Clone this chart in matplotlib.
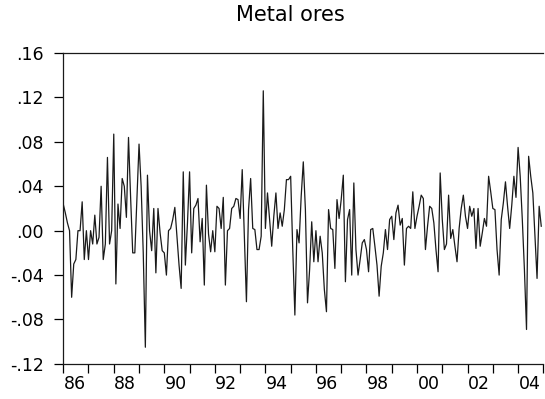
import numpy as np
import matplotlib
matplotlib.use("Agg")
import matplotlib.pyplot as plt
from matplotlib.ticker import FixedLocator, FuncFormatter, NullFormatter

# Monthly growth rates, Metal ores, 1986:01 - 2004:12
start_year = 1986
values = [
    # 1986
    0.024, 0.016, 0.007, 0.000, -0.060, -0.030, -0.026, 0.000, 0.000, 0.026, -0.026, 0.000,
    # 1987
    -0.026, 0.000, -0.012, 0.014, -0.012, -0.006, 0.040, -0.026, -0.012, 0.066, -0.012, 0.000,
    # 1988
    0.087, -0.048, 0.024, 0.002, 0.047, 0.040, 0.012, 0.084, 0.030, -0.020, -0.020, 0.030,
    # 1989
    0.078, 0.040, -0.020, -0.105, 0.050, 0.000, -0.018, 0.020, -0.038, 0.020, -0.002, -0.018,
    # 1990
    -0.020, -0.040, 0.000, 0.002, 0.010, 0.021, -0.005, -0.031, -0.052, 0.053, -0.031, 0.007,
    # 1991
    0.053, -0.020, 0.020, 0.023, 0.029, -0.010, 0.011, -0.049, 0.041, -0.003, -0.019, 0.000,
    # 1992
    -0.019, 0.022, 0.020, 0.002, 0.030, -0.049, 0.000, 0.002, 0.020, 0.022, 0.029, 0.028,
    # 1993
    0.011, 0.055, -0.005, -0.064, 0.019, 0.047, 0.002, 0.001, -0.017, -0.017, -0.005, 0.126,
    # 1994
    0.002, 0.034, 0.010, -0.014, 0.013, 0.034, 0.002, 0.016, 0.004, 0.019, 0.046, 0.046,
    # 1995
    0.049, -0.017, -0.076, 0.001, -0.011, 0.031, 0.062, 0.019, -0.065, -0.035, 0.008, -0.028,
    # 1996
    0.000, -0.028, -0.005, -0.020, -0.053, -0.073, 0.019, 0.002, 0.001, -0.034, 0.028, 0.011,
    # 1997
    0.028, 0.050, -0.046, 0.010, 0.019, -0.040, 0.043, -0.017, -0.040, -0.026, -0.011, -0.008,
    # 1998
    -0.017, -0.037, 0.001, 0.002, -0.014, -0.031, -0.059, -0.032, -0.020, 0.001, -0.017, 0.010,
    # 1999
    0.013, -0.008, 0.016, 0.023, 0.005, 0.011, -0.031, 0.002, 0.004, 0.002, 0.035, 0.002,
    # 2000
    0.013, 0.022, 0.032, 0.029, -0.017, 0.004, 0.022, 0.020, 0.007, -0.017, -0.037, 0.052,
    # 2001
    0.010, -0.017, -0.012, 0.032, -0.007, 0.001, -0.014, -0.028, 0.002, 0.020, 0.032, 0.013,
    # 2002
    0.002, 0.022, 0.013, 0.020, -0.016, 0.020, -0.014, -0.002, 0.011, 0.004, 0.049, 0.035,
    # 2003
    0.020, 0.019, -0.017, -0.040, 0.010, 0.025, 0.044, 0.022, 0.002, 0.023, 0.049, 0.030,
    # 2004
    0.075, 0.049, 0.010, -0.035, -0.089, 0.067, 0.049, 0.034, -0.005, -0.043, 0.022, 0.004,
]
yticks = [-0.12, -0.08, -0.04, 0.00, 0.04, 0.08, 0.12, 0.16]
year_labels = ["86", "88", "90", "92", "94", "96", "98", "00", "02", "04"]

t = start_year + np.arange(len(values)) / 12.0

fig = plt.figure(figsize=(5.45, 3.99), dpi=100)
ax = fig.add_axes([0.116, 0.088, 0.881, 0.779])

ax.plot(t, values, color="#1a1a1a", linewidth=0.9)

ax.set_xlim(1986, 2005)
ax.set_ylim(-0.12, 0.16)

# year ticks every year, labels sit between ticks
ax.xaxis.set_major_locator(FixedLocator(np.arange(1986, 2006)))
ax.xaxis.set_major_formatter(NullFormatter())
label_pos = [1986 + 2 * k + 0.45 for k in range(len(year_labels))]
ax.xaxis.set_minor_locator(FixedLocator(label_pos))
ax.xaxis.set_minor_formatter(FuncFormatter(lambda v, p: year_labels[p] if p < len(year_labels) else ""))
ax.tick_params(axis="x", which="major", length=6.5, width=0.9, direction="out")
ax.tick_params(axis="x", which="minor", length=0, pad=8, labelsize=12.5)


def fmt_y(v, p):
    s = f"{abs(v):.2f}".lstrip("0")
    return ("-" + s) if v < -1e-9 else s


ax.set_yticks(yticks)
ax.yaxis.set_major_formatter(FuncFormatter(fmt_y))
ax.tick_params(axis="y", length=6.5, width=0.9, direction="out", pad=7.5, labelsize=12.5)

ax.spines["right"].set_visible(False)
for s in ["left", "bottom", "top"]:
    ax.spines[s].set_linewidth(0.9)
    ax.spines[s].set_color("#1a1a1a")

fig.text(0.532, 0.962, "Metal ores", ha="center", va="center", fontsize=15)

fig.savefig("out.png", dpi=100)
